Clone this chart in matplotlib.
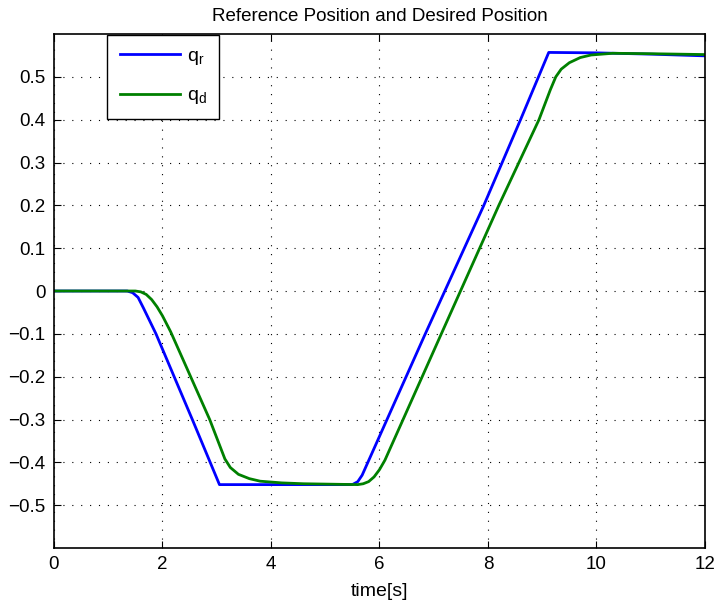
import matplotlib
matplotlib.use("Agg")
import matplotlib.pyplot as plt

plt.rcParams['font.family'] = ['Liberation Sans', 'DejaVu Sans']

# reference position q_r
t_ref = [0, 1.35, 1.45, 1.55, 1.65, 1.88, 2.55, 3.05, 5.5, 5.6, 5.68,
         6.83, 7.92, 8.6, 9.12, 10.0, 11.0, 12.0]
q_ref = [0, 0, -0.004, -0.015, -0.04, -0.1, -0.3, -0.452, -0.452, -0.445, -0.43,
         -0.104, 0.199, 0.4, 0.557, 0.556, 0.553, 0.549]

# desired position q_d
t_des = [0, 1.5, 1.6, 1.7, 1.8, 1.9, 2.0, 2.15, 2.87, 3.15, 3.25, 3.4, 3.6, 3.8,
         4.2, 4.6, 5.6, 5.7, 5.8, 5.9, 6.0, 6.1, 7.14, 8.2, 8.94, 9.15, 9.25, 9.35,
         9.5, 9.7, 9.9, 10.3, 11.0, 12.0]
q_des = [0, 0, -0.002, -0.008, -0.02, -0.037, -0.058, -0.095, -0.3, -0.392, -0.412,
         -0.428, -0.438, -0.444, -0.448, -0.45, -0.452, -0.45, -0.445, -0.434,
         -0.417, -0.395, -0.1, 0.2, 0.4, 0.47, 0.5, 0.518, 0.533, 0.545, 0.551,
         0.555, 0.554, 0.552]

yticks = [-0.5, -0.4, -0.3, -0.2, -0.1, 0, 0.1, 0.2, 0.3, 0.4, 0.5]
xticks = [0, 2, 4, 6, 8, 10, 12]

fig = plt.figure(figsize=(7.19, 6.03), dpi=100)
ax = fig.add_axes([0.0751, 0.0912, 0.9054, 0.8524])

ax.plot(t_ref, q_ref, color=(0, 0, 1), lw=2, label='q$_\\mathregular{r}$')
ax.plot(t_des, q_des, color=(0, 0.5, 0), lw=2, label='q$_\\mathregular{d}$')

ax.set_xlim(0, 12)
ax.set_ylim(-0.6, 0.6)
ax.set_xticks(xticks)
ax.set_yticks(yticks)
ax.set_yticklabels([('%g' % v).replace('-', '\u2212') for v in yticks])
ax.tick_params(direction='in', top=True, right=True, labelsize=13.5, length=5,
               width=0.8, pad=6)
ax.grid(True, color='black', linestyle=(0, (1, 7)), lw=0.8)
for s in ax.spines.values():
    s.set_linewidth(1.2)

ax.set_title('Reference Position and Desired Position', fontsize=13.5, pad=9.5)
ax.set_xlabel('time[s]', fontsize=14, labelpad=7)

leg = ax.legend(loc='upper left', bbox_to_anchor=(0.0814, 0.998), borderaxespad=0,
                fontsize=14, handlelength=3.1, handletextpad=0.35, labelspacing=1.0,
                fancybox=False, edgecolor='black', framealpha=1, borderpad=0.65)
leg.get_frame().set_linewidth(1.0)

fig.savefig('out.png', dpi=100)
